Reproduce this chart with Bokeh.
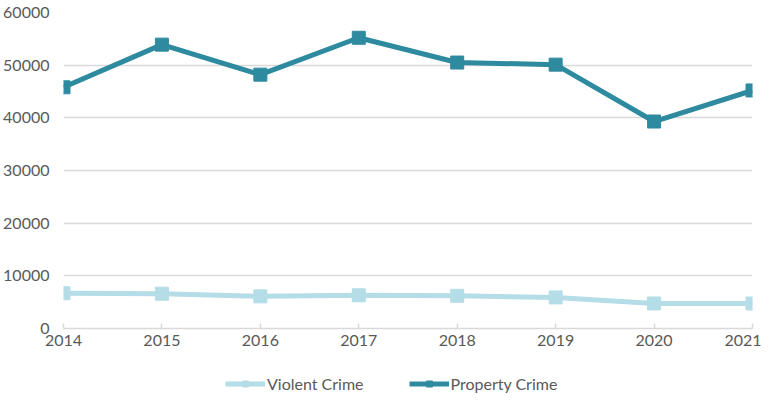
from bokeh.plotting import figure
from bokeh.layouts import column
from bokeh.models import Range1d, Legend, LegendItem, FixedTicker, NumeralTickFormatter
from bokeh.embed import file_html
from bokeh.resources import INLINE

years = [2014, 2015, 2016, 2017, 2018, 2019, 2020, 2021]
violent = [6700, 6600, 6100, 6300, 6200, 5900, 4750, 4750]
property_crime = [45800, 53900, 48200, 55200, 50500, 50100, 39300, 45200]
y_ticks = [0, 10000, 20000, 30000, 40000, 50000, 60000]
series_names = ["Violent Crime", "Property Crime"]

violent_color = "#B4DDE7"
property_color = "#2E8A9F"
text_color = "#595959"
grid_color = "#D9D9D9"
font = "Lato"

p = figure(width=761, height=354, output_backend="svg", toolbar_location=None,
           x_range=Range1d(2014, 2021), y_range=Range1d(0, 60000),
           min_border_left=59, min_border_right=9, min_border_top=12, min_border_bottom=26)
p.outline_line_color = None

p.line(years, violent, line_color=violent_color, line_width=5)
p.scatter(years, violent, marker="square", size=13, fill_color=violent_color, line_color=violent_color)
p.line(years, property_crime, line_color=property_color, line_width=5)
p.scatter(years, property_crime, marker="square", size=13, fill_color=property_color, line_color=property_color)

p.xaxis.ticker = FixedTicker(ticks=years)
p.yaxis.ticker = FixedTicker(ticks=y_ticks)
p.yaxis.formatter = NumeralTickFormatter(format="0")
p.xaxis.formatter = NumeralTickFormatter(format="0")

for ax in (p.xaxis[0], p.yaxis[0]):
    ax.major_label_text_font = font
    ax.major_label_text_font_size = "16px"
    ax.major_label_text_color = text_color
    ax.minor_tick_line_color = None

p.yaxis.axis_line_color = None
p.yaxis.major_tick_line_color = None
p.yaxis.major_label_standoff = 8

p.xaxis.axis_line_color = grid_color
p.xaxis.axis_line_width = 1.5
p.xaxis.major_tick_line_color = grid_color
p.xaxis.major_tick_line_width = 1.5
p.xaxis.major_tick_in = 5
p.xaxis.major_tick_out = 0
p.xaxis.major_label_standoff = 6

p.xgrid.grid_line_color = None
p.ygrid.grid_line_color = grid_color
p.ygrid.grid_line_width = 1.5

# legend strip (its sample renderers sit outside its visible range)
lg = figure(width=761, height=40, output_backend="svg", toolbar_location=None,
            x_range=Range1d(0, 1), y_range=Range1d(0, 1),
            x_axis_location=None, y_axis_location=None,
            min_border_left=0, min_border_right=0, min_border_top=0, min_border_bottom=0)
lg.grid.visible = False
lg.outline_line_color = None
items = []
for name, color, vals in zip(series_names, [violent_color, property_color], [violent, property_crime]):
    r1 = lg.line(years, vals, line_color=color, line_width=5)
    r2 = lg.scatter(years, vals, marker="square", size=11, fill_color=color, line_color=color)
    items.append(LegendItem(label=name, renderers=[r1, r2]))

legend = Legend(items=items, orientation="horizontal", location=(162, 1))
legend.label_text_font = font
legend.label_text_font_size = "16px"
legend.label_text_color = text_color
legend.glyph_width = 40
legend.glyph_height = 15
legend.label_height = 15
legend.label_standoff = 2
legend.spacing = 45
legend.border_line_color = None
legend.background_fill_alpha = 0
legend.margin = 0
legend.padding = 0
lg.add_layout(legend)

layout = column(p, lg, spacing=0)
open("out.html", "w").write(file_html(layout, INLINE))
